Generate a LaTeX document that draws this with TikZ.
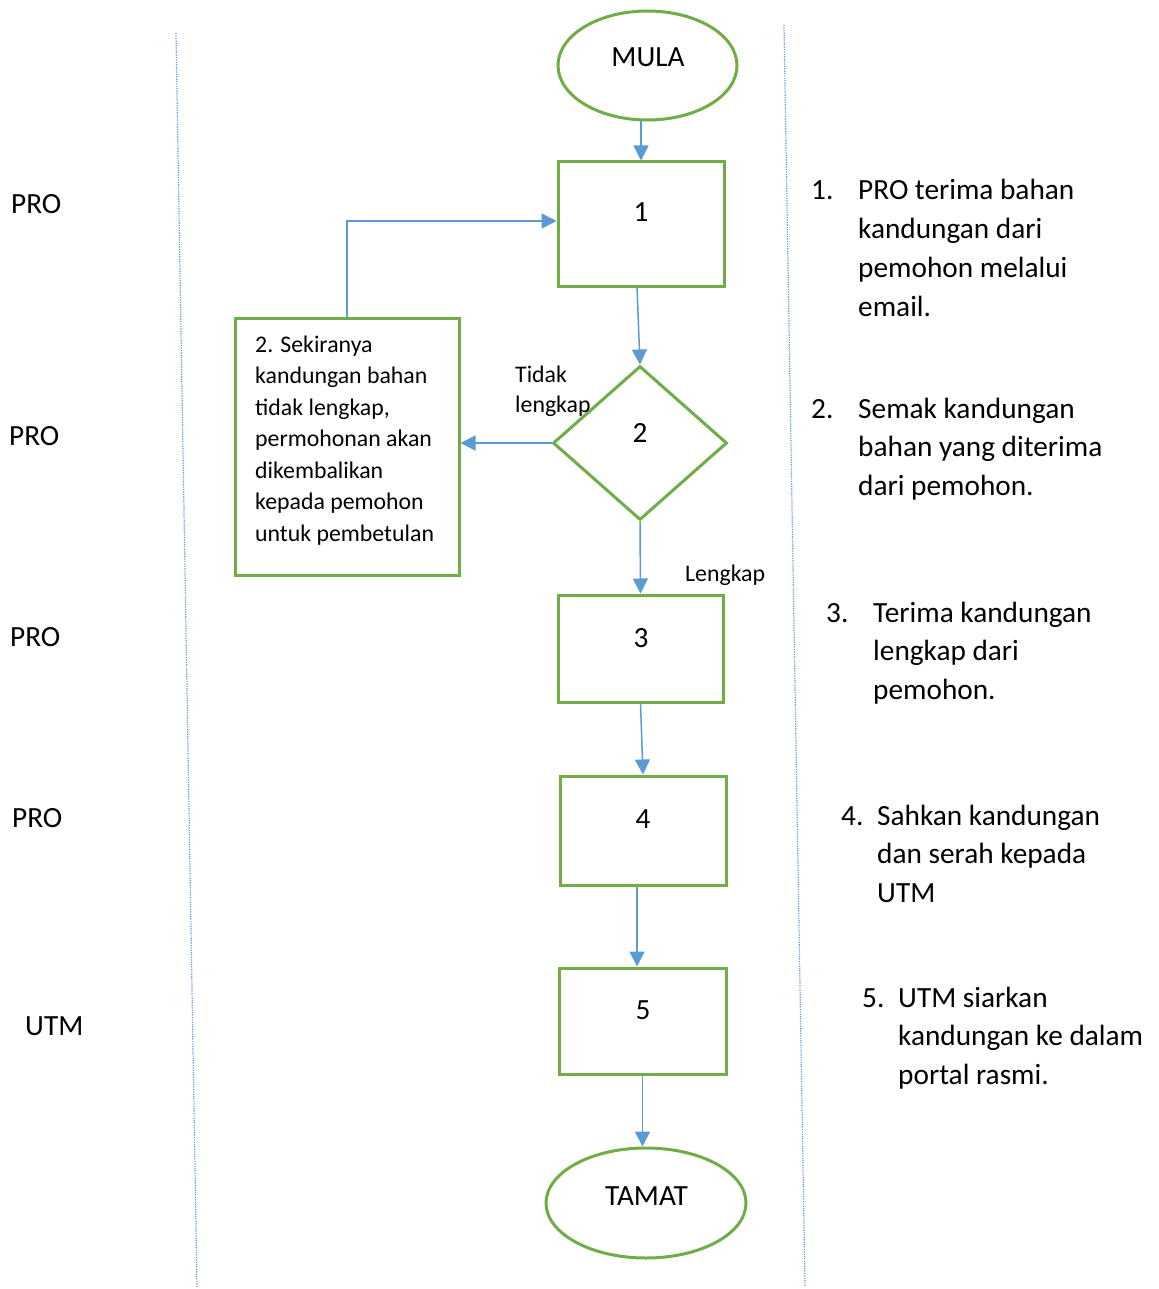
\documentclass[tikz,border=0pt]{standalone}
\usepackage{fontspec}
\setmainfont{Carlito}
\usetikzlibrary{shapes.geometric,arrows.meta}
\definecolor{fgreen}{HTML}{70AD47}
\definecolor{fblue}{HTML}{5B9BD5}
\begin{document}
\begin{tikzpicture}[x=1pt,y=-1pt,
  box/.style={draw=fgreen,line width=3pt,inner sep=0pt},
  oval/.style={ellipse,draw=fgreen,line width=3pt,inner sep=0pt},
  big/.style={font=\fontsize{29.3}{38.7}\selectfont,inner sep=0pt},
  small/.style={font=\fontsize{23.8}{31.5}\selectfont,inner sep=0pt},
  arr/.style={draw=fblue,line width=1.5pt,-{Triangle[length=15pt,width=15pt]}},
  lane/.style={draw=fblue,line width=1.2pt,dash pattern=on 1.2pt off 1.2pt}]
\useasboundingbox (0,0) rectangle (1158,1289);
\fill[white] (0,0) rectangle (1158,1289);

% lane separators
\coordinate (l1) at (176,33); \coordinate (l2) at (197,1287);
\coordinate (r1) at (784,25); \coordinate (r2) at (805,1287);
\draw[lane] (l1) -- (l2);
\draw[lane] (r1) -- (r2);

% shapes
\node[oval,minimum width=179,minimum height=109] (mula) at (647.5,65.5) {};
\node[big,anchor=base] (mulat) at (648,67) {MULA};
\node[box,minimum width=166,minimum height=124] (b1) at (641,224) {};
\node[big,anchor=base] (b1t) at (641,222) {1};
\node[diamond,draw=fgreen,line width=3pt,inner sep=0pt,minimum width=174,minimum height=154] (dia) at (640,443) {};
\node[big,anchor=base] (diat) at (640,442) {2};
\node[box,minimum width=224,minimum height=257] (b2) at (347,446.5) {};
\node[small,anchor=base west] (b2t) at (255,352) {\parbox[t]{200pt}{\raggedright 2. Sekiranya\\kandungan bahan\\tidak lengkap,\\permohonan akan\\dikembalikan\\kepada pemohon\\untuk pembetulan}};
\node[box,minimum width=165,minimum height=107] (b3) at (640.5,648.5) {};
\node[big,anchor=base] (b3t) at (641,647) {3};
\node[box,minimum width=166,minimum height=109] (b4) at (643,830.5) {};
\node[big,anchor=base] (b4t) at (643,828) {4};
\node[box,minimum width=167,minimum height=106] (b5) at (642.5,1021) {};
\node[big,anchor=base] (b5t) at (643,1019.5) {5};
\node[oval,minimum width=200,minimum height=110] (tamat) at (646,1203) {};
\node[big,anchor=base] (tamatt) at (646.5,1205) {TAMAT};

% connector labels
\node[small,anchor=base west] (tidak) at (515,382) {\parbox[t]{100pt}{\fontsize{23.8}{30}\selectfont Tidak\\lengkap}};
\node[small,anchor=base west] (lengkap) at (685,581) {Lengkap};

% connectors
\draw[arr] (b1.north |- mula.south) -- (b1.north);
\draw[arr] ([xshift=-4pt]b1.south) -- (dia.north);
\draw[arr] (dia.west) -- (b2.east |- dia.west);
\draw[arr] (b2.north) |- ([yshift=3pt]b1.west);
\draw[arr] (dia.south) -- (b3.north);
\draw[arr] (b3.south) -- (b4.north);
\draw[arr] ([xshift=-6pt]b4.south) -- ([xshift=-5.5pt]b5.north);
\draw[arr] (b5.south) -- (b5.south |- tamat.north);

% lane labels
\node[big,anchor=base west] (lab1) at (11,214) {PRO};
\node[big,anchor=base west] (lab2) at (9,445) {PRO};
\node[big,anchor=base west] (lab3) at (10,646) {PRO};
\node[big,anchor=base west] (lab4) at (12,827) {PRO};
\node[big,anchor=base west] (lab5) at (25,1035) {UTM};

% descriptions
\node[big,anchor=base west] (n1) at (811,200) {1.};
\node[big,anchor=base west] (t1) at (858,200) {\parbox[t]{290pt}{\raggedright PRO terima bahan\\kandungan dari\\pemohon melalui\\email.}};
\node[big,anchor=base west] (n2) at (811,418) {2.};
\node[big,anchor=base west] (t2) at (858,418) {\parbox[t]{290pt}{\raggedright Semak kandungan\\bahan yang diterima\\dari pemohon.}};
\node[big,anchor=base west] (n3) at (826,622) {3.};
\node[big,anchor=base west] (t3) at (873,622) {\parbox[t]{280pt}{\raggedright Terima kandungan\\lengkap dari\\pemohon.}};
\node[big,anchor=base west] (n4) at (841,825) {4.};
\node[big,anchor=base west] (t4) at (877,825) {\parbox[t]{270pt}{\raggedright Sahkan kandungan\\dan serah kepada\\UTM}};
\node[big,anchor=base west] (n5) at (862,1007) {5.};
\node[big,anchor=base west] (t5) at (898,1007) {\parbox[t]{255pt}{\raggedright UTM siarkan\\kandungan ke dalam\\portal rasmi.}};
\end{tikzpicture}
\end{document}
